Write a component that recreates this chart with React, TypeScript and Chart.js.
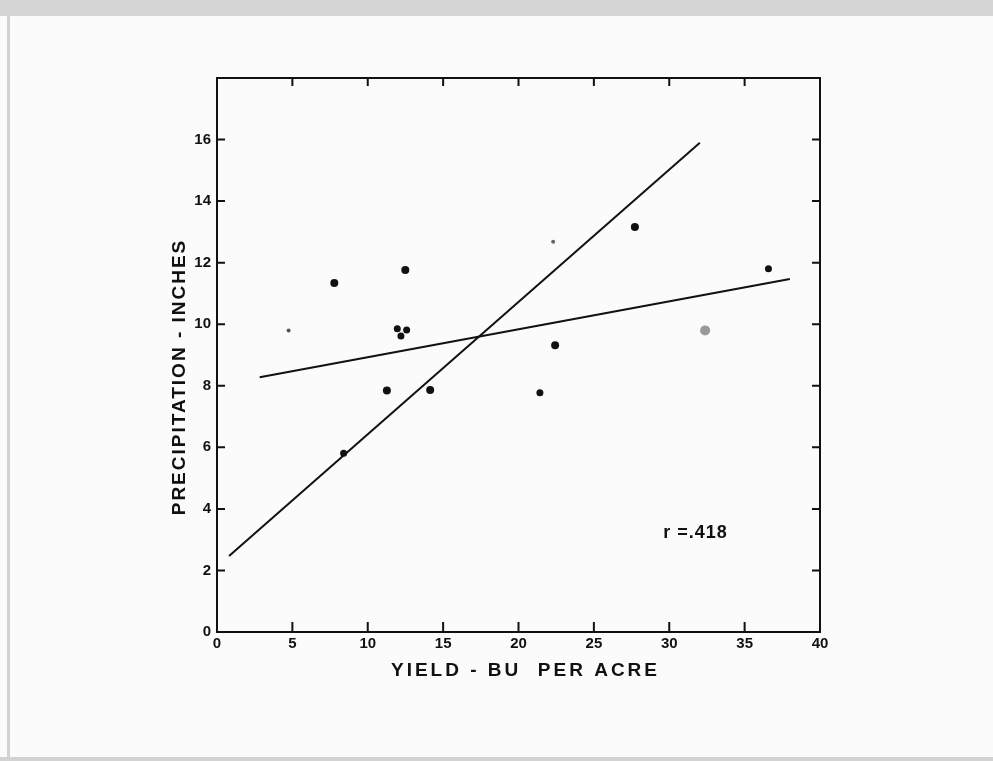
import React, { useEffect, useRef } from "react";
import { Chart, registerables } from "chart.js";

Chart.register(...registerables);

// ---- data ----
const yieldBu = [4.75, 7.78, 12.49, 11.96, 12.58, 12.2, 11.27, 14.14, 8.4, 21.42, 22.43, 22.3, 27.72, 32.38, 36.58];
const precipIn = [9.8, 11.34, 11.76, 9.85, 9.81, 9.62, 7.85, 7.86, 5.81, 7.77, 9.32, 12.68, 13.16, 9.8, 11.8];
const pointSizes = [2, 4, 4, 3.5, 3.5, 3.5, 4, 4, 3.5, 3.5, 4, 2, 4, 5, 3.5];
const pointColors = ["#555", "#111", "#111", "#111", "#111", "#111", "#111", "#111", "#111", "#111", "#111", "#666", "#111", "#999", "#111"];

const lineAX = [0.8, 32.03];
const lineAY = [2.47, 15.9];
const lineBX = [2.83, 38.0];
const lineBY = [8.28, 11.47];

const xTicks = [0, 5, 10, 15, 20, 25, 30, 35, 40];
const yTicks = [0, 2, 4, 6, 8, 10, 12, 14, 16];

const xTitle = "YIELD - BU  PER ACRE";
const yTitle = "PRECIPITATION - INCHES";
const rLabel = "r =.418";
const rPos = { x: 29.6, y: 3.2 };

const FONT = "'Liberation Sans', Arial, sans-serif";

const decorPlugin = {
  id: "decor",
  beforeDraw(chart: any) {
    const { ctx, width, height } = chart;
    ctx.save();
    ctx.fillStyle = "#fbfbfb";
    ctx.fillRect(0, 0, width, height);
    ctx.fillStyle = "#d6d6d6";
    ctx.fillRect(0, 0, width, 16);
    ctx.fillStyle = "#d2d2d2";
    ctx.fillRect(7, 16, 3, height - 16);
    ctx.fillRect(0, height - 4, width, 4);
    ctx.restore();
  },
  afterDraw(chart: any) {
    const { ctx, chartArea } = chart;
    const xs = chart.scales.x;
    const ys = chart.scales.y;
    const { left, right, top, bottom } = chartArea;
    ctx.save();
    ctx.strokeStyle = "#111";
    ctx.lineWidth = 2;
    ctx.strokeRect(left, top, right - left, bottom - top);
    xs.ticks.forEach((t: any) => {
      if (t.value <= 0 || t.value >= 40) return;
      const px = xs.getPixelForValue(t.value);
      ctx.beginPath();
      ctx.moveTo(px, bottom);
      ctx.lineTo(px, bottom - 10);
      ctx.moveTo(px, top);
      ctx.lineTo(px, top + 8);
      ctx.stroke();
    });
    ys.ticks.forEach((t: any) => {
      if (t.value <= 0 || t.value >= 18) return;
      const py = ys.getPixelForValue(t.value);
      ctx.beginPath();
      ctx.moveTo(left, py);
      ctx.lineTo(left + 8, py);
      ctx.moveTo(right, py);
      ctx.lineTo(right - 8, py);
      ctx.stroke();
    });

    // axis titles
    ctx.fillStyle = "#111";
    ctx.font = `bold 19px ${FONT}`;
    ctx.textAlign = "center";
    ctx.textBaseline = "middle";
    (ctx as any).letterSpacing = "3px";
    ctx.fillText(xTitle, (left + right) / 2 + 7, bottom + 39);
    ctx.save();
    (ctx as any).letterSpacing = "2px";
    ctx.translate(180, (top + bottom) / 2 + 22);
    ctx.rotate(-Math.PI / 2);
    ctx.fillText(yTitle, 0, 0);
    ctx.restore();

    // annotation
    (ctx as any).letterSpacing = "1px";
    ctx.font = `bold 18px ${FONT}`;
    ctx.textAlign = "left";
    ctx.fillText(rLabel, xs.getPixelForValue(rPos.x), ys.getPixelForValue(rPos.y));
    ctx.restore();
  },
};

export default function App() {
  const ref = useRef<HTMLCanvasElement | null>(null);
  useEffect(() => {
    if (!ref.current) return;
    const chart = new Chart(ref.current, {
      type: "scatter",
      data: {
        datasets: [
          {
            data: yieldBu.map((x, i) => ({ x, y: precipIn[i] })),
            pointRadius: pointSizes,
            pointBackgroundColor: pointColors,
            pointBorderWidth: 0,
            showLine: false,
          },
          {
            data: lineAX.map((x, i) => ({ x, y: lineAY[i] })),
            showLine: true,
            borderColor: "#111",
            borderWidth: 2,
            pointRadius: 0,
          },
          {
            data: lineBX.map((x, i) => ({ x, y: lineBY[i] })),
            showLine: true,
            borderColor: "#111",
            borderWidth: 2,
            pointRadius: 0,
          },
        ],
      },
      options: {
        animation: false,
        responsive: false,
        maintainAspectRatio: false,
        layout: { padding: { left: 0, top: 78, right: 173, bottom: 0 } },
        plugins: { legend: { display: false }, tooltip: { enabled: false } },
        scales: {
          x: {
            type: "linear",
            min: 0,
            max: 40,
            afterBuildTicks: (s: any) => {
              s.ticks = xTicks.map((v) => ({ value: v }));
            },
            afterFit: (s: any) => {
              s.height = 129;
            },
            grid: { display: false, drawTicks: false },
            border: { display: false },
            ticks: {
              padding: 3,
              color: "#111",
              font: { family: FONT, size: 15, weight: "bold" },
            },
          },
          y: {
            type: "linear",
            min: 0,
            max: 18,
            afterBuildTicks: (s: any) => {
              s.ticks = yTicks.map((v) => ({ value: v }));
            },
            afterFit: (s: any) => {
              s.width = 217;
            },
            grid: { display: false, drawTicks: false },
            border: { display: false },
            ticks: {
              padding: 6,
              color: "#111",
              font: { family: FONT, size: 15, weight: "bold" },
            },
          },
        },
      },
      plugins: [decorPlugin],
    } as any);
    return () => chart.destroy();
  }, []);
  return (
    <div style={{ position: "fixed", left: 0, top: 0, width: 993, height: 761 }}>
      <canvas ref={ref} width={993} height={761} style={{ display: "block" }} />
    </div>
  );
}
